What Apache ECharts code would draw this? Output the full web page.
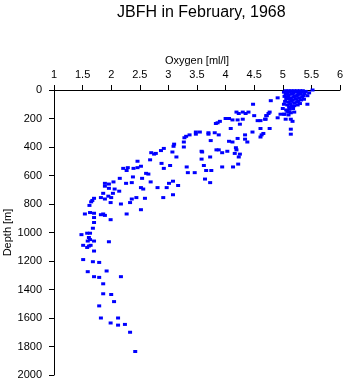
<!DOCTYPE html>
<html><head><meta charset="utf-8">
<script src="https://cdn.jsdelivr.net/npm/echarts@6/dist/echarts.min.js"></script>
<style>html,body{margin:0;padding:0;background:#fff}#c{width:345px;height:384px}</style>
</head><body><div id="c"></div>
<script>
const titleText = "JBFH in February, 1968";
const xName = "Oxygen [ml/l]";
const yName = "Depth [m]";
// oxygen [ml/l]
const oxygen = [
5.05,5.1,5.15,5.2,5.25,5.3,5.35,5.4,
5.02,5.08,5.12,5.18,5.22,5.28,5.33,5.38,
5.05,5.1,5.16,5.21,5.26,5.31,5.36,
5.03,5.09,5.14,5.19,5.24,5.29,5.34,
5.06,5.12,5.17,5.23,5.27,5.32,5.37,
5.04,5.1,5.15,5.2,5.25,5.3,
5.02,5.08,5.13,5.2,5.26,5.11,5.16,
5.0,5.06,5.12,5.18,5.08,5.14,5.03,5.1,5.2,
5.52,5.46,5.43,5.43,4.79,4.91,4.77,4.75,4.72,4.70,4.91,4.96,4.77,5.14,5.14,5.02,5.05,5.14,5.17,5.11,4.48,
4.19,4.23,4.30,4.35,4.40,4.50,4.71,4.69,4.61,4.56,4.30,4.21,4.12,4.00,4.06,3.90,3.86,3.83,4.25,4.09,4.61,
4.47,4.66,4.63,4.61,4.34,4.34,4.38,4.21,4.12,4.06,3.88,3.81,3.70,3.70,3.55,3.48,3.48,3.37,3.31,3.28,3.27,3.27,
3.74,3.58,3.59,3.84,3.88,3.94,4.03,4.16,4.19,4.25,4.23,4.18,3.73,3.58,3.62,3.32,3.34,3.46,3.66,3.75,3.94,4.13,4.22,3.64,3.73,
3.10,3.09,3.07,2.92,2.87,2.78,2.75,2.70,3.14,2.68,2.46,2.52,2.46,2.29,2.21,2.27,2.39,2.88,2.92,3.03,2.61,2.65,2.38,2.15,2.54,
2.26,2.36,2.69,1.89,1.89,1.96,2.04,1.96,2.06,2.14,2.52,2.56,2.81,2.97,3.01,3.08,3.17,3.08,2.91,2.59,2.44,2.36,2.33,2.17,
1.86,1.82,1.89,1.95,2.00,2.03,1.99,1.70,1.67,1.65,1.62,2.52,2.27,1.54,1.63,1.70,1.70,1.70,1.68,1.82,1.86,1.89,1.99,
1.48,1.58,1.63,1.61,1.63,1.59,1.70,1.96,1.51,1.64,1.61,1.58,1.70,1.51,1.68,1.79,1.59,1.92,1.70,1.79,2.17,1.86,1.86,2.00,2.05,1.79,
1.82,2.12,1.99,2.12,2.24,2.33,2.42
];
// depth [m]
const depth = [
5,5,5,5,5,5,5,10,
15,20,15,20,15,20,15,25,
30,35,30,40,35,30,40,
45,50,55,50,45,55,50,
60,65,70,65,75,70,65,
80,85,80,90,85,95,
100,105,100,110,105,120,115,
130,140,135,130,150,160,170,175,155,
0,20,40,100,75,55,155,165,180,205,195,170,270,275,310,170,205,205,220,155,100,
155,165,155,165,155,180,180,205,215,215,205,210,210,200,200,220,230,235,240,270,270,
295,305,315,330,315,345,365,340,365,360,315,300,300,310,295,295,310,315,325,335,365,400,
355,430,435,420,420,440,430,445,420,450,470,405,470,485,530,540,580,580,565,565,540,540,520,625,650,
380,395,435,410,425,445,450,440,470,490,500,535,545,545,550,565,550,515,550,530,585,590,610,620,620,
655,650,645,655,675,660,645,690,695,710,685,695,685,685,655,640,670,735,755,760,755,765,790,800,
725,755,765,745,755,725,790,760,775,785,810,840,870,870,860,865,895,930,970,875,870,880,910,
1015,1005,1005,1035,1050,1060,1060,1065,1090,1090,1095,1105,1130,1190,1205,1210,1275,1270,1310,1315,1310,1360,1430,1435,1485,1515,
1600,1600,1635,1650,1645,1700,1835
];
const xTicks = [1,1.5,2,2.5,3,3.5,4,4.5,5,5.5,6];
const yTicks = [0,200,400,600,800,1000,1200,1400,1600,1800,2000];

const pts = oxygen.map((o,i)=>[o, depth[i]]);
const font = 'Liberation Sans, Arial, sans-serif';
const chart = echarts.init(document.getElementById('c'), null, {renderer:'canvas'});
chart.setOption({
  animation:false,
  backgroundColor:'#fff',
  title:{text:titleText,left:112,top:0,textStyle:{fontFamily:font,fontSize:16,fontWeight:'normal',color:'#000'}},
  grid:{left:54,right:5,top:90,bottom:9,containLabel:false,outerBoundsMode:'none'},
  xAxis:{type:'value',position:'top',min:xTicks[0],max:xTicks[xTicks.length-1],interval:0.5,
    name:xName,nameLocation:'middle',nameGap:24,nameMoveOverlap:false,nameTextStyle:{fontFamily:font,fontSize:11,color:'#000'},
    axisLine:{show:true,onZero:false,lineStyle:{color:'#000',width:1}},
    axisTick:{show:true,length:5,lineStyle:{color:'#000'}},
    axisLabel:{fontFamily:font,fontSize:11,color:'#000',margin:10,formatter:v=>String(v)},
    splitLine:{show:false}},
  yAxis:{type:'value',inverse:true,min:yTicks[0],max:yTicks[yTicks.length-1],interval:200,
    name:yName,nameLocation:'middle',nameGap:46,nameRotate:90,nameMoveOverlap:false,nameTextStyle:{fontFamily:font,fontSize:11,color:'#000',verticalAlign:'middle'},
    axisLine:{show:true,onZero:false,lineStyle:{color:'#000',width:1}},
    axisTick:{show:true,length:5,lineStyle:{color:'#000'}},
    axisLabel:{fontFamily:font,fontSize:11,color:'#000',margin:12,formatter:v=>String(v)},
    splitLine:{show:false}},
  series:[{type:'scatter',data:pts,symbol:'rect',symbolSize:[4,3],itemStyle:{color:'#0000ff',opacity:1}}]
});
</script></body></html>
